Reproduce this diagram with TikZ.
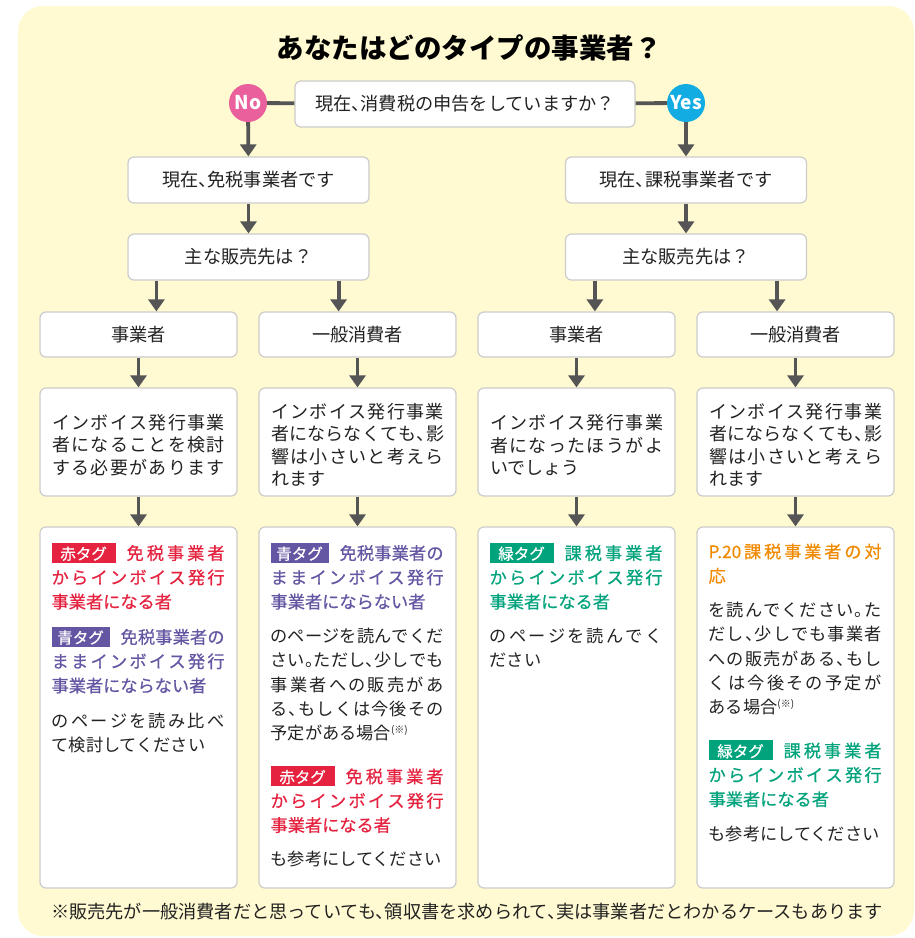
\documentclass[tikz,border=0pt]{standalone}
\usepackage{fontspec}
\setmainfont{Noto Sans CJK JP}[RawFeature=+halt]
\newfontface\medfont{Noto Sans CJK JP}[RawFeature=+halt, FakeBold=0.6]
\usetikzlibrary{arrows.meta,calc}
\definecolor{bgy}{HTML}{FFFAD1}
\definecolor{boxgray}{HTML}{CCCCCC}
\definecolor{arrgray}{HTML}{555555}
\definecolor{nopink}{HTML}{E9609C}
\definecolor{yescyan}{HTML}{12ACE3}
\definecolor{tagred}{HTML}{E5223F}
\definecolor{tagpurple}{HTML}{6556A3}
\definecolor{taggreen}{HTML}{00A37B}
\definecolor{orangeh}{HTML}{F08A00}
\definecolor{txt}{HTML}{222222}
\makeatletter
\def\spr#1{\spr@a#1\spr@end}
\def\spr@a#1{#1\spr@b}
\def\spr@b#1{\ifx\spr@end#1\else\hfill#1\expandafter\spr@b\fi}
\makeatother
\newcommand\jl[1]{\makebox[173pt][s]{#1}}
\newcommand\Ptw{P.20}
% tag: colour, width, text
\newcommand\tagb[3]{{\setlength\fboxsep{0pt}\colorbox{#1}{\makebox[#2]{\rule[-3pt]{0pt}{20pt}\color{white}\medfont\fontsize{15.5}{15.5}\selectfont #3}}}\hspace{11pt}}
\newcommand\kome{{\fontsize{10}{10}\selectfont\raisebox{6pt}{(※)}}}
\tikzset{
 box/.style={draw=boxgray, line width=1.2pt, fill=white, rounded corners=6pt, inner sep=0pt, text=txt},
 arr/.style={draw=arrgray, line width=3.8pt, -{Triangle[width=16pt,length=12pt]}},
 ln/.style={draw=arrgray, line width=3.8pt},
 circ/.style={circle, minimum size=38pt, inner sep=0pt, text=white, font=\fontsize{19}{19}\selectfont\bfseries},
 ftwo/.style={font=\fontsize{18.2}{22}\selectfont},
 ffour/.style={font=\fontsize{18}{22.5}\selectfont, align=left, inner sep=0pt, text=txt},
 ffive/.style={font=\fontsize{17.2}{24.3}\selectfont, anchor=north west, align=left, inner sep=0pt, text=txt},
}
\begin{document}
\begin{tikzpicture}[x=1pt,y=-1pt]
\useasboundingbox (0,0) rectangle (915,938);
\fill[bgy, rounded corners=25pt] (18,6) rectangle (914,936);
\node[font=\fontspec{Noto Sans CJK JP}\fontsize{27.5}{27.5}\selectfont\bfseries, text=black] (title) at (469,48) {あなたはどのタイプの事業者？};
% top question
\node[box, ftwo, minimum width=340, minimum height=46] (q) at (465,104) {現在、消費税の申告をしていますか？};
\node[circ, fill=nopink] (no) at (248,103) {No};
\node[circ, fill=yescyan] (yes) at (686,103) {Yes};
\draw[ln] (no) -- (q);
\draw[ln] (yes) -- (q);
% level 2
\node[box, ftwo, minimum width=241, minimum height=46] (l2a) at (248.5,180) {現在、免税事業者です};
\node[box, ftwo, minimum width=241, minimum height=46] (l2b) at (686,180) {現在、課税事業者です};
\draw[arr] (no) -- (l2a);
\draw[arr] (yes) -- (l2b);
\node[box, ftwo, minimum width=241, minimum height=46] (m2a) at (248.5,257) {主な販売先は？};
\node[box, ftwo, minimum width=241, minimum height=46] (m2b) at (686,257) {主な販売先は？};
\draw[arr] (l2a) -- (m2a);
\draw[arr] (l2b) -- (m2b);
% level 3
\node[box, ftwo, minimum width=197, minimum height=45] (c1) at (138.5,334.5) {事業者};
\node[box, ftwo, minimum width=197, minimum height=45] (c2) at (357.5,334.5) {一般消費者};
\node[box, ftwo, minimum width=197, minimum height=45] (c3) at (576.5,334.5) {事業者};
\node[box, ftwo, minimum width=197, minimum height=45] (c4) at (795.5,334.5) {一般消費者};
\coordinate (s1) at ([xshift=29pt]m2a.south west);
\coordinate (s2) at ([xshift=-31pt]m2a.south east);
\coordinate (s3) at ([xshift=30pt]m2b.south west);
\coordinate (s4) at ([xshift=-30pt]m2b.south east);
\draw[arr] (s1) -- (s1 |- c1.north);
\draw[arr] (s2) -- (s2 |- c2.north);
\draw[arr] (s3) -- (s3 |- c3.north);
\draw[arr] (s4) -- (s4 |- c4.north);
% level 4
\node[box, minimum width=197, minimum height=108] (d1) at (138.5,442) {};
\node[box, minimum width=197, minimum height=108] (d2) at (357.5,442) {};
\node[box, minimum width=197, minimum height=108] (d3) at (576.5,442) {};
\node[box, minimum width=197, minimum height=108] (d4) at (795.5,442) {};
\node[ffour] (u1) at ([yshift=-3pt]d1.center) {\jl{\spr{インボイス発行事業}}\\\jl{\spr{者になることを検討}}\\\jl{\spr{する必要があります}}};
\node[ffour] (u2) at ([yshift=-3pt]d2.center) {\jl{\spr{インボイス発行事業}}\\\jl{\spr{者にならなくても、影}}\\\jl{\spr{響は小さいと考えら}}\\れます\hfill\null};
\node[ffour] (u3) at ([yshift=-3pt]d3.center) {\jl{\spr{インボイス発行事業}}\\\jl{\spr{者になったほうがよ}}\\いでしょう\hfill\null};
\node[ffour] (u4) at ([yshift=-3pt]d4.center) {\jl{\spr{インボイス発行事業}}\\\jl{\spr{者にならなくても、影}}\\\jl{\spr{響は小さいと考えら}}\\れます\hfill\null};
\draw[arr] (c1) -- (d1);
\draw[arr] (c2) -- (d2);
\draw[arr] (c3) -- (d3);
\draw[arr] (c4) -- (d4);
% level 5
\node[box, minimum width=197, minimum height=361] (e1) at (138.5,707.5) {};
\node[box, minimum width=197, minimum height=361] (e2) at (357.5,707.5) {};
\node[box, minimum width=197, minimum height=361] (e3) at (576.5,707.5) {};
\node[box, minimum width=197, minimum height=361] (e4) at (795.5,707.5) {};
\draw[arr] (d1) -- (e1);
\draw[arr] (d2) -- (e2);
\draw[arr] (d3) -- (e3);
\draw[arr] (d4) -- (e4);
\node[ffive] (t1) at ([shift={(12pt,-16pt)}]e1.north west) {%
\jl{\tagb{tagred}{64pt}{赤タグ}\color{tagred}\medfont\spr{免税事業者}}\\
\jl{\color{tagred}\medfont\spr{からインボイス発行}}\\
{\color{tagred}\medfont 事業者になる者}\\[11pt]
\jl{\tagb{tagpurple}{58pt}{青タグ}\color{tagpurple}\medfont\spr{免税事業者の}}\\
\jl{\color{tagpurple}\medfont\spr{ままインボイス発行}}\\
{\color{tagpurple}\medfont 事業者にならない者}\\[11pt]
\jl{\spr{のページを読み比べ}}\\
て検討してください};
\node[ffive] (t2) at ([shift={(12pt,-16pt)}]e2.north west) {%
\jl{\tagb{tagpurple}{58pt}{青タグ}\color{tagpurple}\medfont\spr{免税事業者の}}\\
\jl{\color{tagpurple}\medfont\spr{ままインボイス発行}}\\
{\color{tagpurple}\medfont 事業者にならない者}\\[10pt]
\jl{\spr{のページを読んでくだ}}\\
\jl{\spr{さい。ただし、少しでも}}\\
\jl{\spr{事業者への販売があ}}\\
\jl{\spr{る、もしくは今後その}}\\
予定がある場合\kome\\[19pt]
\jl{\tagb{tagred}{64pt}{赤タグ}\color{tagred}\medfont\spr{免税事業者}}\\
\jl{\color{tagred}\medfont\spr{からインボイス発行}}\\
{\color{tagred}\medfont 事業者になる者}\\[10pt]
も参考にしてください};
\node[ffive] (t3) at ([shift={(12pt,-16pt)}]e3.north west) {%
\jl{\tagb{taggreen}{64pt}{緑タグ}\color{taggreen}\medfont\spr{課税事業者}}\\
\jl{\color{taggreen}\medfont\spr{からインボイス発行}}\\
{\color{taggreen}\medfont 事業者になる者}\\[10pt]
\jl{\spr{のページを読んでく}}\\
ださい};
\node[ffive] (t4) at ([shift={(12pt,-17pt)}]e4.north west) {%
\jl{\color{orangeh}\medfont\spr{\Ptw 課税事業者の対}}\\
{\color{orangeh}\medfont 応}\\[10pt]
\jl{\spr{を読んでください。た}}\\
\jl{\spr{だし、少しでも事業者}}\\
\jl{\spr{への販売がある、もし}}\\
\jl{\spr{くは今後その予定が}}\\
ある場合\kome\\[19pt]
\jl{\tagb{taggreen}{64pt}{緑タグ}\color{taggreen}\medfont\spr{課税事業者}}\\
\jl{\color{taggreen}\medfont\spr{からインボイス発行}}\\
{\color{taggreen}\medfont 事業者になる者}\\[10pt]
も参考にしてください};
\node[font=\fontsize{18.2}{18.2}\selectfont, text=txt] (foot) at (467,912) {※販売先が一般消費者だと思っていても、領収書を求められて、実は事業者だとわかるケースもあります};
\end{tikzpicture}
\end{document}
